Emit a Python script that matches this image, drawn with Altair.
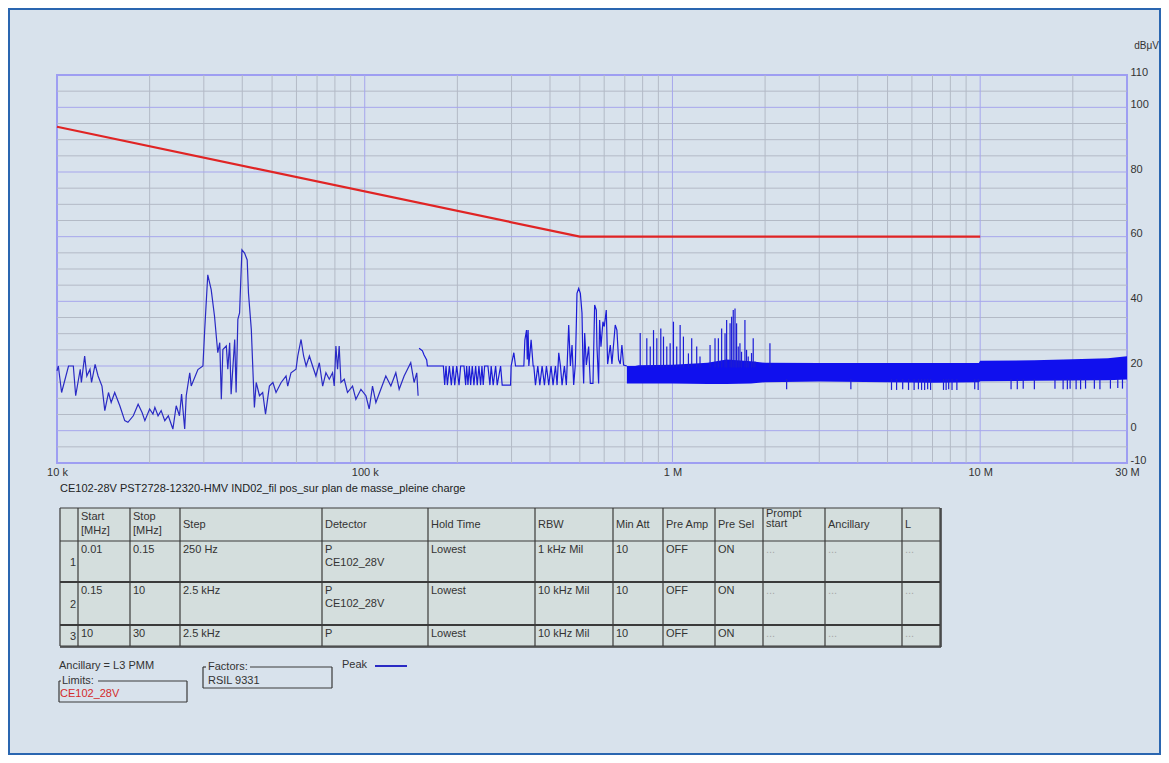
import altair as alt
import pandas as pd

# ---------------- data (frequencies in kHz, levels in dBuV) ----------------
scan1_khz = [10.0, 10.1, 10.35, 10.9, 11.3, 11.5, 11.9, 12.0, 12.3, 12.5, 12.8, 12.95, 13.3, 13.6, 14.0,
             14.3, 14.7, 15.0, 15.4, 16.0, 16.6, 17.0, 17.7, 18.35, 18.9, 19.3, 20.0, 20.5, 20.8, 21.3,
             21.8, 22.4, 23.0, 23.8, 24.4, 25.0, 25.4, 26.0, 26.3, 27.0, 27.3, 28.7, 29.8, 30.2, 30.9,
             31.7, 32.5, 33.3, 33.8, 34.2, 34.6, 35.5, 35.9, 36.4, 36.8, 37.8, 38.2, 38.7, 39.2, 39.9,
             40.7, 41.5, 41.9, 42.8, 43.3, 43.8, 44.4, 45.5, 46.6, 47.6, 49.0, 50.3, 51.5, 53.5, 55.5,
             56.2, 57.6, 59.8, 60.6, 62.1, 63.3, 64.5, 66.1, 67.7, 69.4, 71.2, 73.0, 74.8, 76.7, 78.6,
             79.6, 80.6, 81.6, 82.6, 83.7, 85.8, 87.9, 91.3, 93.6, 97.2, 100.9, 103.4, 106.0, 108.7,
             112.8, 117.1, 121.6, 126.2, 129.4, 134.3, 137.7, 141.1, 144.7, 147.6, 149.1]
scan1_db = [18.5, 20.0, 11.8, 20.0, 20.0, 10.8, 19.0, 14.9, 23.1, 16.9, 19.0, 14.9, 20.5, 16.9, 13.8,
            6.2, 11.8, 8.7, 11.8, 7.7, 3.1, 2.6, 4.6, 8.2, 5.6, 3.1, 6.7, 5.1, 7.2, 4.6,
            6.2, 3.1, 4.6, 0.5, 7.7, 4.6, 11.3, 0.5, 10.8, 17.9, 13.8, 18.9, 20.0, 31.3, 48.2,
            43.6, 35.4, 24.1, 27.2, 9.7, 25.1, 26.2, 19.0, 27.2, 11.3, 28.2, 11.8, 34.4, 36.4, 55.9,
            54.9, 52.8, 42.6, 31.3, 19.0, 7.2, 14.9, 10.8, 11.8, 5.1, 13.8, 14.9, 11.8, 14.9, 16.9,
            13.8, 17.9, 19.0, 23.1, 28.2, 23.1, 20.0, 23.1, 20.0, 16.9, 21.0, 13.8, 17.9, 15.9, 17.9,
            13.8, 26.2, 19.0, 26.2, 14.9, 15.9, 11.8, 13.8, 9.7, 12.8, 10.8, 6.7, 13.8, 8.7,
            12.8, 16.9, 13.8, 17.9, 12.8, 16.9, 19.0, 21.0, 14.9, 17.9, 10.8]

scan2_khz = [150.2, 154.0, 155.9, 159.0, 159.8, 180.1, 181.9, 183.7, 185.6, 188.4, 191.2, 193.6, 196.1,
             199.0, 202.5, 205.0, 210.2, 212.8, 214.4, 216.5, 218.7, 220.9, 223.6, 226.4, 229.3, 232.1,
             235.0, 238.0, 240.4, 242.7, 245.3, 251.4, 255.2, 257.6, 261.5, 266.3, 269.5, 276.4, 279.7,
             297.8, 299.1, 305.2, 309.1, 328.9, 331.4, 335.6, 337.5, 339.6, 341.4, 347.3, 352.6, 354.4,
             358.8, 365.1, 370.7, 377.1, 383.7, 389.5, 396.3, 403.2, 409.3, 416.6, 421.8, 427.1, 432.5,
             437.8, 445.5, 452.2, 460.1, 465.9, 471.7, 477.6, 483.6, 487.2, 489.5, 495.8, 502.0, 508.2,
             512.0, 514.6, 518.5, 525.0, 534.2, 540.9, 551.7, 558.7, 565.7, 568.4, 575.5, 579.9, 585.7,
             594.4, 600.5, 609.5, 615.6, 628.1, 635.8, 651.7, 659.9, 668.2, 676.7, 685.0, 693.7, 711.0]
scan2_db = [25.5, 24.7, 23.4, 21.9, 20.0, 20.0, 14.1, 20.0, 14.1, 20.0, 14.1, 20.0, 14.1,
            20.0, 14.1, 20.0, 20.0, 14.1, 20.0, 14.1, 20.0, 14.1, 20.0, 14.1, 20.0, 14.1,
            20.0, 14.1, 20.0, 14.1, 20.0, 20.0, 14.1, 20.0, 14.1, 20.0, 14.1, 20.0, 14.1,
            14.1, 20.0, 24.1, 20.0, 20.0, 28.0, 31.1, 22.0, 31.1, 20.0, 28.1, 20.0, 20.0,
            14.1, 20.0, 14.1, 20.0, 14.1, 20.0, 14.1, 20.0, 14.1, 20.0, 14.1, 24.1, 20.0,
            14.1, 20.0, 14.1, 32.7, 20.0, 26.5, 14.1, 20.6, 33.2, 42.5, 44.0, 42.5, 36.4,
            20.6, 14.6, 30.2, 20.3, 26.0, 14.6, 14.6, 38.9, 37.3, 26.0, 14.6, 34.2, 26.0,
            33.7, 32.2, 37.3, 20.6, 26.5, 20.6, 32.7, 31.1, 22.0, 20.6, 26.5, 20.3, 20.0]

band_khz = [711, 757, 776, 1000, 1300, 1500, 1800, 2000, 3000, 5000, 7000, 9900, 10000, 15000, 20000, 26000, 30000]
band_lo = [14.6, 14.6, 14.6, 14.6, 14.4, 14.4, 14.6, 15.0, 15.2, 15.0, 14.8, 15.0, 15.3, 15.4, 15.5, 15.6, 15.8]
band_hi = [20.0, 20.0, 20.2, 20.4, 21.0, 22.0, 21.5, 21.0, 20.9, 20.9, 20.9, 20.9, 21.6, 21.8, 22.1, 22.4, 23.0]

spike_up_khz = [785.6, 825.4, 846.9, 867.9, 889.5, 916.5, 935.1, 958.4, 982.9, 1007.4, 1032.5, 1059.2, 1085.6,
                1127, 1155, 1199, 1229, 1325, 1375, 1410, 1445, 1482, 1500, 1539, 1557, 1576, 1597, 1616,
                1636, 1657, 1677, 1720, 1741, 1763, 1807, 1830, 1854, 2074]
spike_up_db = [30.2, 28.6, 26.0, 31.1, 28.6, 31.6, 29.1, 26.0, 27.0, 33.7, 26.0, 32.7, 29.1,
               23.9, 28.6, 26.0, 22.9, 26.5, 28.6, 28.6, 31.6, 30.1, 34.2, 33.2, 35.2, 37.3, 37.8, 33.2,
               26.0, 27.0, 24.4, 34.2, 25.0, 22.9, 24.0, 28.6, 21.4, 27.0]

spike_dn_khz = [2350, 3800, 5150, 5350, 5600, 5850, 6100, 6300, 6450, 6600, 6750, 6900, 7600, 7750, 7900,
                8100, 8400, 9600, 9850, 12600, 13200, 13800, 15000, 17500, 18600, 19200, 19600, 20500,
                21200, 22000, 23500, 24500, 26500, 28000, 29000]
spike_dn_db = [12.8, 12.8, 12.6, 12.6, 12.8, 12.6, 12.6, 12.8, 12.6, 12.6, 12.8, 12.6, 12.6, 12.6, 12.8,
               12.6, 12.6, 12.8, 12.6, 12.8, 12.8, 13.0, 12.8, 13.0, 12.8, 12.8, 13.0, 12.8,
               12.8, 13.0, 13.0, 12.8, 13.0, 13.2, 13.0]

limit_khz = [10, 500, 10000]
limit_db = [94, 60, 60]

x_tick_khz = [10, 100, 1000, 10000, 30000]
y_tick_db = [-10, 0, 20, 40, 60, 80, 100, 110]
grid_x_major = [100, 1000, 10000]
grid_x_minor = [20, 30, 40, 50, 60, 70, 80, 90, 200, 300, 400, 500, 600, 700, 800, 900,
                2000, 3000, 4000, 5000, 6000, 7000, 8000, 9000, 20000]
grid_y_major = [0, 20, 40, 60, 80, 100]
grid_y_minor = [-5, 5, 10, 15, 25, 30, 35, 45, 50, 55, 65, 70, 75, 85, 90, 95, 105]

caption = "CE102-28V PST2728-12320-HMV IND02_fil pos_sur plan de masse_pleine charge"
table_headers = ["", "Start\n[MHz]", "Stop\n[MHz]", "Step", "Detector", "Hold Time", "RBW", "Min Att",
                 "Pre Amp", "Pre Sel", "Prompt\nstart", "Ancillary", "L"]
table_rows = [
    ["1", "0.01", "0.15", "250 Hz", "P\nCE102_28V", "Lowest", "1 kHz Mil", "10", "OFF", "ON", "...", "...", "..."],
    ["2", "0.15", "10", "2.5 kHz", "P\nCE102_28V", "Lowest", "10 kHz Mil", "10", "OFF", "ON", "...", "...", "..."],
    ["3", "10", "30", "2.5 kHz", "P", "Lowest", "10 kHz Mil", "10", "OFF", "ON", "...", "...", "..."],
]
ancillary_text = "Ancillary = L3 PMM"
limits_title, limits_value = "Limits:", "CE102_28V"
factors_title, factors_value = "Factors:", "RSIL 9331"
legend_label = "Peak"

# ---------------- layout (page pixels) ----------------
W, H = 1070, 388
PAD_L, PAD_T = 49, 67
PAD_R = 1153 - PAD_L - W
PAD_B = 747 - PAD_T - H
col_edges = [60, 78, 130, 180, 322, 428, 535, 613, 663, 715, 763, 825, 902, 940]
row_edges = [508, 541, 582, 625, 646]

BG = "#d8e2ec"
FONT = "Liberation Sans"
TXT = "#333333"

xs = alt.Scale(type="log", domain=[10, 30000], nice=False)
ys = alt.Scale(domain=[-10, 110], nice=False, zero=False)

x_axis = alt.Axis(values=x_tick_khz, labelExpr="datum.value >= 1000 ? (datum.value/1000) + ' M' : datum.value + ' k'",
                  ticks=False, domain=False, grid=False, labelPadding=3, labelFlush=False,
                  labelFontSize=11, labelColor=TXT, labelFont=FONT, title=None, labelBaseline="top",
                  labelOverlap=False)
y_axis = alt.Axis(orient="right", values=y_tick_db, ticks=False, domain=False, grid=False,
                  labelExpr="datum.value < 0 ? '-' + abs(datum.value) : '' + datum.value",
                  labelAlign="left", labelPadding=3, labelBaseline="alphabetic", labelFlush=False,
                  labelFontSize=11, labelColor=TXT, labelFont=FONT, labelOverlap=False,
                  title="dBμV", titleAngle=0, titleX=19, titleY=-30, titleAlign="center",
                  titleBaseline="middle", titleFontWeight="normal", titleFontSize=10,
                  titleColor=TXT, titleFont=FONT)

def XF(field="f"):
    return alt.X(f"{field}:Q", scale=xs, axis=x_axis)

def YD(field="d"):
    return alt.Y(f"{field}:Q", scale=ys, axis=y_axis)

def vrules(vals, color, width):
    return alt.Chart(pd.DataFrame({"f": vals})).mark_rule(color=color, strokeWidth=width).encode(x=XF())

def hrules(vals, color, width):
    return alt.Chart(pd.DataFrame({"d": vals})).mark_rule(color=color, strokeWidth=width).encode(y=YD())

grid = alt.layer(
    vrules(grid_x_minor, "#b3bac6", 1),
    hrules(grid_y_minor, "#b3bac6", 1),
    vrules(grid_x_major, "#a6a6ec", 1),
    hrules(grid_y_major, "#a6a6ec", 1),
)

band_df = pd.DataFrame({"f": band_khz, "lo": band_lo, "hi": band_hi})
band = alt.Chart(band_df).mark_area(color="#1010ee", opacity=1, interpolate="linear").encode(
    x=XF(), y=YD("lo"), y2="hi:Q")

s1 = alt.Chart(pd.DataFrame({"f": scan1_khz, "d": scan1_db})).mark_line(color="#2a2ac4", strokeWidth=1.2).encode(
    x=XF(), y=YD())
s2 = alt.Chart(pd.DataFrame({"f": scan2_khz, "d": scan2_db})).mark_line(color="#1c1cd6", strokeWidth=1.2).encode(
    x=XF(), y=YD())
up = alt.Chart(pd.DataFrame({"f": spike_up_khz, "d": spike_up_db})).mark_rule(color="#1c1cd6", strokeWidth=1.2).encode(
    x=XF(), y=YD(), y2=alt.datum(19.5))
dn = alt.Chart(pd.DataFrame({"f": spike_dn_khz, "d": spike_dn_db})).mark_rule(color="#1c1cd6", strokeWidth=1.2).encode(
    x=XF(), y=YD(), y2=alt.datum(16))
limit = alt.Chart(pd.DataFrame({"f": limit_khz, "d": limit_db})).mark_line(color="#e02424", strokeWidth=2.2).encode(
    x=XF(), y=YD())

spectrum = alt.layer(grid, band, up, dn, s2, s1, limit)

# ---------------- table & legend (page-pixel scales) ----------------
px = alt.Scale(domain=[0, 1169], range=[-57, 1112], nice=False, zero=False)
py = alt.Scale(domain=[0, 763], range=[-75, 688], nice=False, zero=False)
X = lambda f: alt.X(f, type="quantitative", scale=px, axis=None)
Y = lambda f: alt.Y(f, type="quantitative", scale=py, axis=None)

top, bot = row_edges[0], row_edges[-1]
left, right = col_edges[0], col_edges[-1]
tbg = alt.Chart(pd.DataFrame({"x": [left], "x2": [right], "y": [top], "y2": [bot]})).mark_rect(
    color="#d4dedd").encode(x=X("x"), x2="x2", y=Y("y"), y2="y2")

lines = []
for c in col_edges:
    lines.append((c, top, c, bot, 1.2))
for i, r in enumerate(row_edges):
    lines.append((left, r, right, r, 1.8 if i in (2, 3) else 1.2))
lines.append((right + 1, top, right + 1, bot + 1, 1.5))
lines.append((left, bot + 1, right + 1, bot + 1, 1.5))
# legend boxes
lines += [(59, 681, 59, 702, 1.2), (59, 702, 187, 702, 1.2), (187, 681, 187, 702, 1.2),
          (59, 681, 61, 681, 1.2), (98, 681, 187, 681, 1.2)]
lines += [(203, 667, 203, 688, 1.2), (203, 688, 332, 688, 1.2), (332, 667, 332, 688, 1.2),
          (203, 667, 206, 667, 1.2), (250, 667, 332, 667, 1.2)]
ldf = pd.DataFrame(lines, columns=["x", "y", "x2", "y2", "w"])
trules = alt.Chart(ldf).mark_rule(color="#3a3a3a").encode(
    x=X("x"), x2="x2", y=Y("y"), y2="y2", strokeWidth=alt.StrokeWidth("w:Q", scale=None, legend=None))

peak_line = alt.Chart(pd.DataFrame({"x": [375], "x2": [407], "y": [666], "y2": [666]})).mark_rule(
    color="#2a2ac4", strokeWidth=2).encode(x=X("x"), x2="x2", y=Y("y"), y2="y2")

texts = []
for ci, h in enumerate(table_headers):
    if not h:
        continue
    parts = h.split("\n")
    ys_h = [525] if len(parts) == 1 else ([517, 531] if ci != 10 else [514, 524])
    for p, yy in zip(parts, ys_h):
        texts.append((col_edges[ci] + 3, yy, p, TXT, 11))
for ri, row in enumerate(table_rows):
    rt, rb = row_edges[ri + 1], row_edges[ri + 2]
    for ci, cell in enumerate(row):
        if ci == 0:
            continue
        for li, p in enumerate(cell.split("\n")):
            texts.append((col_edges[ci] + 3, rt + 9 + li * 12.5, p, "#a8a8a8" if p == "..." else TXT, 11))
texts.append((60, 489, caption, "#222222", 11))
texts.append((59, 666, ancillary_text, TXT, 11))
texts.append((62, 681, limits_title, TXT, 11))
texts.append((60, 694, limits_value, "#d42a2a", 11))
texts.append((208, 667, factors_title, TXT, 11))
texts.append((208, 681, factors_value, TXT, 11))
texts.append((342, 665, legend_label, TXT, 11))
tdf = pd.DataFrame(texts, columns=["x", "y", "t", "c", "s"])
ttext = alt.Chart(tdf).mark_text(align="left", baseline="middle", font=FONT, fontSize=11).encode(
    x=X("x"), y=Y("y"), text="t:N", color=alt.Color("c:N", scale=None, legend=None))

idx = []
for ri, row in enumerate(table_rows):
    rt, rb = row_edges[ri + 1], row_edges[ri + 2]
    idx.append((col_edges[1] - 2, (rt + rb) / 2 + 1.5, row[0]))
idf = pd.DataFrame(idx, columns=["x", "y", "t"])
itext = alt.Chart(idf).mark_text(align="right", baseline="middle", font=FONT, fontSize=11, color=TXT).encode(
    x=X("x"), y=Y("y"), text="t:N")

frame = alt.Chart(pd.DataFrame({"x": [9], "x2": [1160], "y": [9], "y2": [754]})).mark_rect(
    filled=False, stroke="#2a66b0", strokeWidth=2).encode(x=X("x"), x2="x2", y=Y("y"), y2="y2")

table = alt.layer(tbg, trules, peak_line, ttext, itext, frame)

chart = alt.layer(spectrum, table).resolve_scale(x="independent", y="independent").properties(
    width=W, height=H,
    padding={"left": PAD_L, "top": PAD_T, "right": PAD_R, "bottom": PAD_B},
    autosize=alt.AutoSizeParams(type="none"),
).configure(background=BG, font=FONT).configure_view(stroke="#9e9ef2", strokeWidth=2)

chart.save("out.html", embed_options={"renderer": "svg", "actions": False})
